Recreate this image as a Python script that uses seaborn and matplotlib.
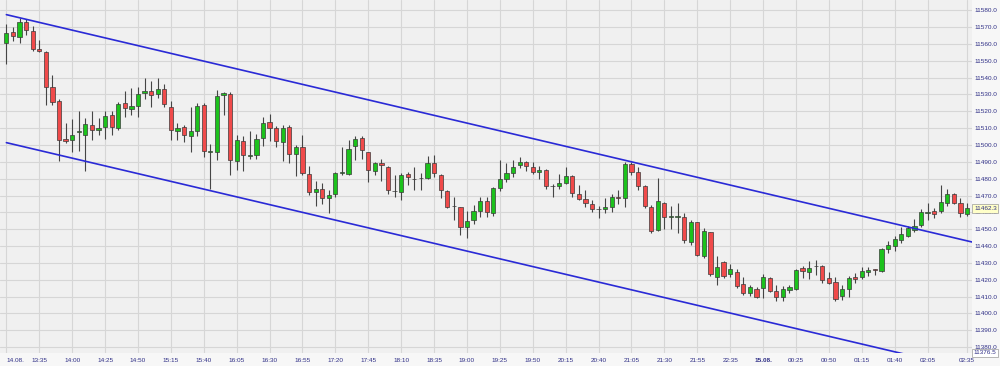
import matplotlib
matplotlib.use("Agg")
import matplotlib.pyplot as plt
import seaborn as sns
import numpy as np
import pandas as pd

# ---------------- data ----------------
opens = [11560.4, 11567.3, 11564.3, 11573.1, 11567.5, 11557.0, 11555.4, 11534.3, 11526.2, 11503.6,
         11502.8, 11508.0, 11506.0, 11511.9, 11509.0, 11510.6, 11517.9, 11510.3, 11525.0, 11521.6,
         11523.2, 11530.7, 11532.3, 11530.1, 11533.3, 11522.8, 11508.5, 11510.6, 11505.4, 11508.5,
         11523.8, 11496.1, 11496.1, 11529.6, 11530.3, 11490.8, 11502.4, 11493.7, 11494.1, 11504.0,
         11513.5, 11510.0, 11501.5, 11510.6, 11494.6, 11498.7, 11482.7, 11472.0, 11473.8, 11468.6,
         11471.0, 11483.6, 11482.7, 11499.5, 11504.4, 11495.7, 11484.8, 11489.2, 11487.2, 11472.8,
         11471.8, 11482.9, 11479.7, 11480.3, 11480.3, 11489.2, 11482.3, 11472.8, 11463.9, 11463.1,
         11451.2, 11455.5, 11461.1, 11466.8, 11459.9, 11474.7, 11480.1, 11483.3, 11488.0, 11489.8,
         11487.0, 11483.9, 11485.2, 11475.7, 11475.7, 11477.7, 11481.7, 11471.0, 11468.0, 11464.9,
         11461.9, 11461.9, 11463.1, 11469.4, 11468.4, 11488.8, 11483.9, 11475.7, 11463.1, 11449.6,
         11465.8, 11457.5, 11457.5, 11457.1, 11442.7, 11454.2, 11433.8, 11448.2, 11421.5, 11430.4,
         11423.3, 11424.6, 11417.6, 11412.4, 11414.4, 11415.0, 11421.3, 11413.6, 11410.0, 11414.0,
         11414.6, 11426.9, 11424.3, 11427.9, 11428.3, 11420.9, 11418.9, 11410.6, 11414.4, 11421.9,
         11421.5, 11424.3, 11426.3, 11424.9, 11438.2, 11440.1, 11443.7, 11446.2, 11449.6, 11452.6,
         11459.9, 11460.9, 11461.1, 11465.5, 11470.8, 11465.8, 11459.1]
highs = [11571.9, 11569.9, 11575.3, 11574.7, 11570.7, 11562.4, 11555.6, 11541.6, 11527.2, 11512.9,
         11515.5, 11520.2, 11515.9, 11520.2, 11516.3, 11520.2, 11520.2, 11525.8, 11532.3, 11533.7,
         11534.7, 11539.6, 11538.2, 11539.6, 11536.3, 11526.2, 11513.3, 11511.9, 11522.4, 11525.2,
         11524.8, 11500.7, 11532.7, 11531.7, 11531.7, 11506.0, 11505.4, 11508.5, 11506.6, 11516.9,
         11518.3, 11511.5, 11511.9, 11511.9, 11500.1, 11506.0, 11487.6, 11478.9, 11477.3, 11473.4,
         11484.2, 11498.7, 11503.0, 11505.4, 11505.4, 11495.9, 11489.8, 11491.6, 11487.4, 11482.3,
         11483.3, 11484.2, 11487.2, 11483.6, 11493.5, 11494.1, 11482.5, 11473.0, 11469.4, 11463.3,
         11461.1, 11464.5, 11469.4, 11469.0, 11475.3, 11491.2, 11489.2, 11491.2, 11492.8, 11490.8,
         11490.2, 11487.6, 11485.6, 11476.9, 11482.9, 11487.2, 11481.9, 11476.3, 11473.4, 11467.4,
         11463.9, 11468.4, 11471.0, 11473.0, 11490.2, 11490.2, 11486.8, 11476.0, 11464.5, 11480.3,
         11466.0, 11463.9, 11465.5, 11459.9, 11455.5, 11454.4, 11450.6, 11448.4, 11433.8, 11431.4,
         11429.3, 11426.3, 11421.9, 11417.0, 11415.6, 11423.3, 11421.9, 11417.0, 11416.0, 11416.6,
         11426.3, 11427.9, 11431.4, 11431.8, 11428.5, 11424.8, 11421.9, 11417.0, 11422.3, 11423.9,
         11427.5, 11427.5, 11426.5, 11438.8, 11443.1, 11446.0, 11451.6, 11452.2, 11456.0, 11461.9,
         11465.5, 11462.5, 11476.3, 11473.9, 11471.4, 11468.4, 11465.5]
lows = [11548.1, 11561.6, 11560.4, 11565.5, 11556.0, 11555.3, 11523.8, 11523.8, 11490.6, 11501.1,
        11496.1, 11496.5, 11484.8, 11503.0, 11506.0, 11503.6, 11506.0, 11509.0, 11516.9, 11517.9,
        11516.9, 11527.2, 11522.8, 11527.8, 11522.8, 11503.0, 11503.0, 11501.5, 11496.1, 11505.4,
        11492.8, 11473.8, 11491.2, 11517.9, 11482.3, 11485.2, 11484.6, 11491.8, 11491.8, 11499.5,
        11502.1, 11499.1, 11490.8, 11489.2, 11481.7, 11482.3, 11470.4, 11464.0, 11465.0, 11459.5,
        11469.4, 11482.3, 11481.9, 11491.2, 11491.8, 11477.9, 11481.9, 11478.7, 11471.0, 11469.4,
        11467.4, 11476.1, 11473.4, 11473.4, 11479.7, 11480.9, 11468.4, 11462.5, 11455.5, 11446.7,
        11444.7, 11453.3, 11457.5, 11457.5, 11458.1, 11472.4, 11478.3, 11481.2, 11486.6, 11484.8,
        11482.9, 11479.7, 11473.8, 11469.4, 11473.8, 11476.9, 11469.0, 11467.4, 11463.1, 11460.5,
        11456.6, 11459.5, 11460.5, 11465.0, 11463.4, 11482.3, 11473.4, 11462.5, 11447.7, 11449.2,
        11450.0, 11450.0, 11447.7, 11441.7, 11440.7, 11433.8, 11432.8, 11422.3, 11416.6, 11420.9,
        11421.9, 11415.2, 11410.8, 11410.5, 11409.1, 11409.1, 11413.0, 11407.5, 11407.1, 11412.4,
        11414.0, 11420.9, 11420.5, 11422.9, 11418.0, 11417.6, 11407.1, 11408.1, 11410.0, 11418.3,
        11420.3, 11422.3, 11422.9, 11424.5, 11435.8, 11437.3, 11442.1, 11445.6, 11448.6, 11451.6,
        11455.5, 11456.6, 11459.9, 11464.0, 11465.0, 11457.2, 11457.9]
closes = [11566.7, 11564.7, 11573.2, 11568.3, 11557.0, 11555.8, 11534.7, 11525.8, 11503.0, 11502.2,
          11506.2, 11508.3, 11512.3, 11508.8, 11510.3, 11517.5, 11510.6, 11524.6, 11521.8, 11523.4,
          11530.1, 11532.3, 11529.9, 11533.3, 11524.2, 11509.0, 11510.3, 11506.0, 11508.5, 11523.4,
          11496.7, 11496.3, 11529.1, 11530.7, 11491.2, 11503.0, 11494.1, 11494.3, 11503.4, 11512.9,
          11510.3, 11502.1, 11510.0, 11494.8, 11499.1, 11483.3, 11472.0, 11474.1, 11468.8, 11470.6,
          11483.6, 11483.8, 11497.5, 11503.6, 11497.1, 11485.2, 11489.2, 11488.0, 11473.4, 11472.9,
          11482.3, 11480.9, 11479.8, 11480.4, 11489.2, 11483.3, 11473.0, 11463.4, 11464.0, 11451.6,
          11455.1, 11461.1, 11466.8, 11460.1, 11474.4, 11480.1, 11483.3, 11487.2, 11490.0, 11487.8,
          11484.0, 11485.2, 11475.7, 11475.8, 11477.7, 11481.8, 11471.4, 11468.0, 11465.5, 11462.1,
          11462.0, 11463.4, 11469.0, 11468.8, 11488.8, 11484.2, 11475.9, 11463.9, 11449.2, 11466.8,
          11457.1, 11457.6, 11457.6, 11443.7, 11454.0, 11434.4, 11449.0, 11423.3, 11427.5, 11422.5,
          11426.3, 11416.3, 11412.2, 11415.6, 11409.7, 11421.5, 11413.6, 11409.5, 11414.4, 11415.6,
          11425.9, 11425.3, 11426.9, 11428.0, 11420.0, 11418.3, 11408.7, 11414.4, 11421.0, 11420.5,
          11425.3, 11425.9, 11425.5, 11438.2, 11440.7, 11444.3, 11447.2, 11450.6, 11452.0, 11460.1,
          11460.0, 11459.1, 11466.1, 11470.8, 11465.8, 11459.5, 11462.3]

tick_candles = [0, 5, 10, 15, 20, 25, 30, 35, 40, 45, 50, 55, 60, 65, 70, 75, 80, 85, 90, 95,
                100, 105, 110, 115, 120, 125, 130, 135, 140, 146]
tick_labels = ["14.08.", "13:35", "14:00", "14:25", "14:50", "15:15", "15:40", "16:05", "16:30",
               "16:55", "17:20", "17:45", "18:10", "18:35", "19:00", "19:25", "19:50", "20:15",
               "20:40", "21:05", "21:30", "21:55", "22:35", "15.08.", "00:25", "00:50", "01:15",
               "01:40", "02:05", "02:35"]
price_ticks = [11380, 11390, 11400, 11410, 11420, 11430, 11440, 11450, 11460, 11470, 11480,
               11490, 11500, 11510, 11520, 11530, 11540, 11550, 11560, 11570, 11580]

# channel lines: values at the first and last candle
channel_anchor = [0, 146]
channel_upper = [11577.4, 11443.1]
channel_lower = [11501.4, 11367.1]

y_min, y_max = 11376.5, 11586.1

# ---------------- styling ----------------
sns.set_theme(style="whitegrid")
plt.rcParams["font.family"] = ["Liberation Sans", "DejaVu Sans"]

BG = "#f0f0f0"
GRID = "#d6d6d6"
GREEN = "#1cc21c"
RED = "#f04a4a"
EDGE = "#3a3a3a"
LABEL = "#2f2f86"
CHAN = "#2a2ad6"

df = pd.DataFrame({"open": opens, "high": highs, "low": lows, "close": closes})
df["idx"] = np.arange(len(df))
df["up"] = df["close"] >= df["open"]

fig = plt.figure(figsize=(10, 3.66), dpi=100, facecolor="#f7f7f7")
ax = fig.add_axes([0.0, 13 / 366, 0.972, 353 / 366])
ax.set_facecolor(BG)

x_left, x_right = -0.97, 146.75
ax.set_xlim(x_left, x_right)
ax.set_ylim(y_min, y_max)

# grid
ax.set_xticks(tick_candles)
ax.set_yticks(price_ticks)
ax.grid(True, color=GRID, linewidth=0.8)
ax.set_axisbelow(True)

# wicks
ax.vlines(df["idx"], df["low"], df["high"], color="#454545", linewidth=0.8, zorder=2)
# bodies
body_bottom = np.minimum(df["open"], df["close"])
body_h = np.maximum(np.abs(df["close"] - df["open"]), 0.15)
colors = [GREEN if u else RED for u in df["up"]]
ax.bar(df["idx"], body_h, bottom=body_bottom, width=0.64, color=colors,
       edgecolor=EDGE, linewidth=0.5, zorder=3)

# channel lines
slope_u = (channel_upper[1] - channel_upper[0]) / (channel_anchor[1] - channel_anchor[0])
slope_l = (channel_lower[1] - channel_lower[0]) / (channel_anchor[1] - channel_anchor[0])
cx = [channel_anchor[0], x_right]
sns.lineplot(x=cx, y=[channel_upper[0], channel_upper[0] + slope_u * (x_right - channel_anchor[0])],
             ax=ax, color=CHAN, linewidth=1.2, zorder=4)
sns.lineplot(x=cx, y=[channel_lower[0], channel_lower[0] + slope_l * (x_right - channel_anchor[0])],
             ax=ax, color=CHAN, linewidth=1.2, zorder=4)

# ticks / labels
ax.yaxis.tick_right()
ax.set_yticklabels([f"{v:.1f}" for v in price_ticks])
ax.set_xticklabels(tick_labels)
ax.tick_params(axis="y", length=0, pad=2, labelsize=4.6, labelcolor=LABEL)
ax.tick_params(axis="x", length=0, pad=3.5, labelsize=4.6, labelcolor=LABEL)
xt = ax.get_xticklabels()
xt[0].set_horizontalalignment("left")
xt[23].set_fontweight("bold")

for s in ax.spines.values():
    s.set_visible(False)
ax.set_xlabel("")
ax.set_ylabel("")

# price tags
ax.annotate(f"{closes[-1]:.1f}", xy=(1.0, closes[-1]), xycoords=("axes fraction", "data"),
            xytext=(1.5, 0), textcoords="offset points", ha="left", va="center",
            fontsize=4.6, color=LABEL, annotation_clip=False,
            bbox=dict(boxstyle="square,pad=0.25", fc="#ffffc8", ec="#9a9a9a", lw=0.5))
ax.annotate(f"{y_min:.1f}", xy=(1.0, y_min), xycoords=("axes fraction", "data"),
            xytext=(1.0, 0), textcoords="offset points", ha="left", va="center",
            fontsize=4.6, color=LABEL, annotation_clip=False,
            bbox=dict(boxstyle="square,pad=0.25", fc="white", ec="#9a9a9a", lw=0.5))

fig.savefig("out.png", dpi=100, facecolor=fig.get_facecolor())
